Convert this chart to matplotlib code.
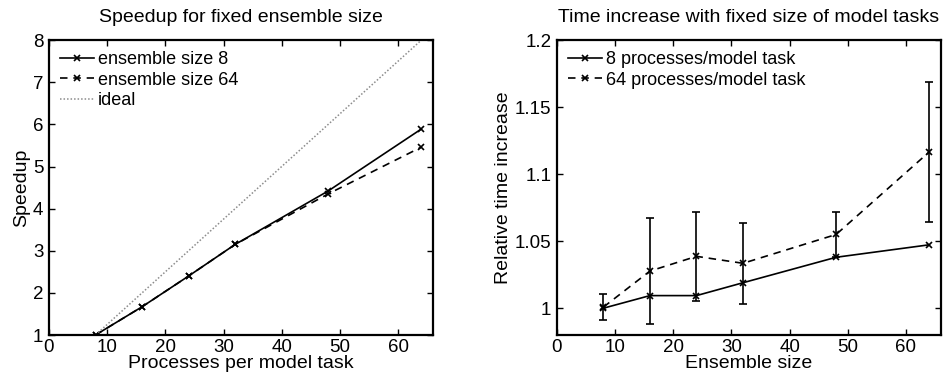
import matplotlib
matplotlib.use("Agg")
import matplotlib.pyplot as plt

plt.rcParams['font.family'] = ['Liberation Sans', 'DejaVu Sans']

# Left panel data
procs = [8, 16, 24, 32, 48, 64]
speedup_ens8 = [1.0, 1.67, 2.40, 3.15, 4.42, 5.89]
speedup_ens64 = [1.0, 1.67, 2.40, 3.15, 4.35, 5.46]
ideal_x = [8, 64]
ideal_y = [1, 8]

# Right panel data
ens_size = [8, 16, 24, 32, 48, 64]
time_p8 = [1.0, 1.0094, 1.0094, 1.019, 1.038, 1.0473]
time_p64 = [1.0008, 1.0277, 1.0387, 1.0335, 1.0550, 1.1166]
time_p64_err = [0.0096, 0.0397, 0.0332, 0.0300, 0.0165, 0.0524]

fig = plt.figure(figsize=(9.47, 3.8), dpi=100)
ax1 = fig.add_axes([0.0517, 0.1184, 0.4055, 0.776])
ax2 = fig.add_axes([0.588, 0.1184, 0.4055, 0.776])

TFS = 14
LFS = 14
KFS = 13.5
GFS = 13
lw = 1.2
DASH = (0, (4.5, 3.5))

def style(ax):
    for s in ax.spines.values():
        s.set_linewidth(1.6)
    ax.tick_params(direction='in', top=True, right=True, length=4.5, width=1.0,
                   labelsize=KFS)
    ax.tick_params(axis='x', pad=3)
    ax.tick_params(axis='y', pad=4)

leg_kw = dict(loc='upper left', frameon=False, fontsize=GFS, handlelength=1.9,
              handletextpad=0.2, labelspacing=0.2, borderaxespad=0.3, borderpad=0.3)

ax1.plot(procs, speedup_ens8, '-x', color='k', lw=lw, ms=5, mew=1.2, label='ensemble size 8')
ax1.plot(procs, speedup_ens64, marker='x', ls=DASH, color='k', lw=lw, ms=5, mew=1.2, label='ensemble size 64')
ax1.plot(ideal_x, ideal_y, ls=(0, (1, 1.3)), color='0.55', lw=1.1, label='ideal')
ax1.set_xlim(0, 66)
ax1.set_ylim(1, 8)
ax1.set_xticks([0, 10, 20, 30, 40, 50, 60])
ax1.set_yticks([1, 2, 3, 4, 5, 6, 7, 8])
ax1.set_title('Speedup for fixed ensemble size', fontsize=TFS, pad=13)
ax1.set_xlabel('Processes per model task', fontsize=LFS, labelpad=-1)
ax1.set_ylabel('Speedup', fontsize=LFS, labelpad=2)
style(ax1)
ax1.legend(**leg_kw)

ax2.errorbar(ens_size, time_p64, yerr=time_p64_err, fmt='none', ecolor='k',
             elinewidth=1.2, capsize=3, capthick=1.2)
ax2.plot(ens_size, time_p8, '-x', color='k', lw=lw, ms=5, mew=1.2, label='8 processes/model task')
ax2.plot(ens_size, time_p64, marker='x', ls=DASH, color='k', lw=lw, ms=5, mew=1.2, label='64 processes/model task')
ax2.set_xlim(0, 66)
ax2.set_ylim(0.98, 1.2)
ax2.set_xticks([0, 10, 20, 30, 40, 50, 60])
ax2.set_yticks([1, 1.05, 1.1, 1.15, 1.2])
ax2.set_yticklabels(['1', '1.05', '1.1', '1.15', '1.2'])
ax2.set_title('Time increase with fixed size of model tasks', fontsize=TFS, pad=13)
ax2.set_xlabel('Ensemble size', fontsize=LFS, labelpad=-1)
ax2.set_ylabel('Relative time increase', fontsize=LFS, labelpad=2)
style(ax2)
ax2.legend(**leg_kw)

fig.savefig('out.png', dpi=100)
